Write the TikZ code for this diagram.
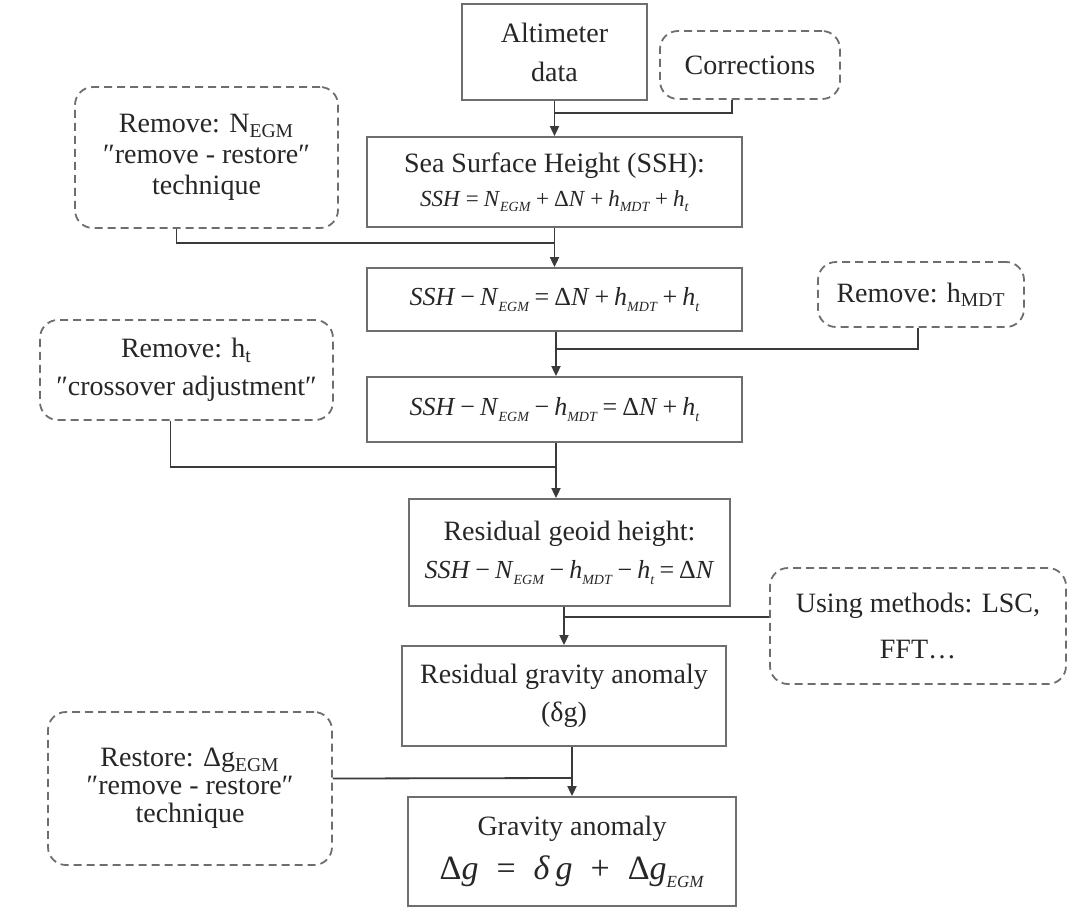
\documentclass[tikz,border=0pt]{standalone}
\usepackage{fontspec}
\setmainfont{Liberation Serif}
\usepackage{tikz}
\usetikzlibrary{calc, arrows.meta}

\definecolor{boxgray}{HTML}{6E6E6E}
\definecolor{linegray}{HTML}{3A3A3A}

\newcommand{\iv}[1]{\textit{#1}}
\newcommand{\isub}[1]{\raisebox{-0.5ex}{\fontsize{7}{7}\selectfont\textit{#1}}}
\newcommand{\eqop}[1]{\hspace{2.5pt}#1\hspace{2.5pt}}

\tikzset{
    procbox/.style = {draw = boxgray, line width = 0.9pt, align = center, inner sep = 0pt, text = black!85},
    notebox/.style = {draw = boxgray, line width = 0.9pt, dash pattern = on 4pt off 2.5pt, rounded corners = 9pt, align = center, inner sep = 0pt, text = black!85},
    flowline/.style = {draw = linegray, line width = 0.9pt},
    flowarrow/.style = {flowline, -{Triangle[length = 5pt, width = 4.5pt]}}
}

\begin{document}
\begin{tikzpicture}[x = 0.5pt, y = -0.5pt, font = \fontsize{14}{18}\selectfont]
            \useasboundingbox (0, 0) rectangle (1067, 911);

            \node[procbox, minimum width = 92.5pt, minimum height = 48pt, font = \fontsize{14}{19.5}\selectfont] (alt) at (554.5, 52) {Altimeter\\data};
            \node[notebox, minimum width = 90pt, minimum height = 34pt] (corr) at (750, 65) {Corrections};
            \node[procbox, minimum width = 187.5pt, minimum height = 45pt] (ssh) at (554.5, 182) {Sea Surface Height (SSH):\\[-1pt]{\fontsize{11.5}{14}\selectfont \iv{SSH}\eqop{=}\iv{N}\isub{EGM}\eqop{+}Δ\iv{N}\eqop{+}\iv{h}\isub{MDT}\eqop{+}\iv{h}\isub{t}}};
            \node[notebox, minimum width = 131.5pt, minimum height = 70.5pt, font = \fontsize{14}{15.5}\selectfont] (remN) at (206.5, 157.5) {Remove: N\textsubscript{EGM}\\″remove - restore″\\technique};

            \node[procbox, minimum width = 187.5pt, minimum height = 31.5pt, font = \fontsize{13}{16}\selectfont] (eq2) at (554.5, 299.5) {\iv{SSH}\eqop{−}\iv{N}\isub{EGM}\eqop{=}Δ\iv{N}\eqop{+}\iv{h}\isub{MDT}\eqop{+}\iv{h}\isub{t}};
            \node[notebox, minimum width = 103pt, minimum height = 32.5pt] (remM) at (921, 294.5) {Remove: h\textsubscript{MDT}};

            \node[procbox, minimum width = 187.5pt, minimum height = 32.5pt, font = \fontsize{13}{16}\selectfont] (eq3) at (554.5, 409.5) {\iv{SSH}\eqop{−}\iv{N}\isub{EGM}\eqop{−}\iv{h}\isub{MDT}\eqop{=}Δ\iv{N}\eqop{+}\iv{h}\isub{t}};
            \node[notebox, minimum width = 146.5pt, minimum height = 50pt, font = \fontsize{14}{19}\selectfont] (remT) at (186.5, 370) {Remove: h\textsubscript{t}\\″crossover adjustment″};

            \node[procbox, minimum width = 160.5pt, minimum height = 53.5pt, font = \fontsize{14}{19}\selectfont] (geo) at (569.5, 552.5) {Residual geoid height:\\{\fontsize{13}{16}\selectfont\iv{SSH}\eqop{−}\iv{N}\isub{EGM}\eqop{−}\iv{h}\isub{MDT}\eqop{−}\iv{h}\isub{t}\eqop{=}Δ\iv{N}}};
            \node[notebox, minimum width = 148pt, minimum height = 58pt, font = \fontsize{14}{23}\selectfont] (use) at (918, 626) {Using methods: LSC,\\FFT…};

            \node[procbox, minimum width = 162pt, minimum height = 50pt, font = \fontsize{14}{19}\selectfont] (res) at (564, 696) {Residual gravity anomaly\\(δg)};
            \node[notebox, minimum width = 142pt, minimum height = 76.5pt, font = \fontsize{14}{14}\selectfont] (rest) at (190, 788.5) {Restore: Δg\textsubscript{EGM}\\″remove - restore″\\technique};

            \node[procbox, minimum width = 164pt, minimum height = 54.5pt, font = \fontsize{14}{22}\selectfont] (grav) at (572, 851.5) {Gravity anomaly\\{\fontsize{17}{19}\selectfont Δ\iv{g}\hspace{9pt}=\hspace{9pt}\iv{δ}\,\iv{g}\hspace{9pt}+\hspace{9pt}Δ\iv{g}\raisebox{-0.5ex}{\fontsize{8.5}{8.5}\selectfont\textit{EGM}}}};

            \coordinate (j1) at (554.5, 113);
            \coordinate (j2) at (554.5, 243);
            \coordinate (j3) at (556, 349);
            \coordinate (j4) at (556, 467);
            \coordinate (j5) at (564, 617);
            \coordinate (j6) at (572, 778);

            \draw[flowarrow] (alt.south) -- (ssh.north);
            \draw[flowline] ([xshift = -9pt]corr.south) |- (j1);

            \draw[flowarrow] (ssh.south) -- (eq2.north);
            \draw[flowline] ([xshift = -15pt]remN.south) |- (j2);

            \draw[flowarrow] (eq2.south -| j3) -- (eq3.north -| j3);
            \draw[flowline] ([xshift = -1.5pt]remM.south) |- (j3);

            \draw[flowarrow] (eq3.south -| j4) -- (geo.north -| j4);
            \draw[flowline] ([xshift = -8pt]remT.south) |- (j4);

            \draw[flowarrow] (res.north |- geo.south) -- (res.north);
            \draw[flowline] ([yshift = 4.5pt]use.west) -- (j5);

            \draw[flowarrow] (grav.north |- res.south) -- (grav.north);
            \draw[flowline] ([yshift = 5pt]rest.east) -- (j6);

        \end{tikzpicture}
\end{document}
